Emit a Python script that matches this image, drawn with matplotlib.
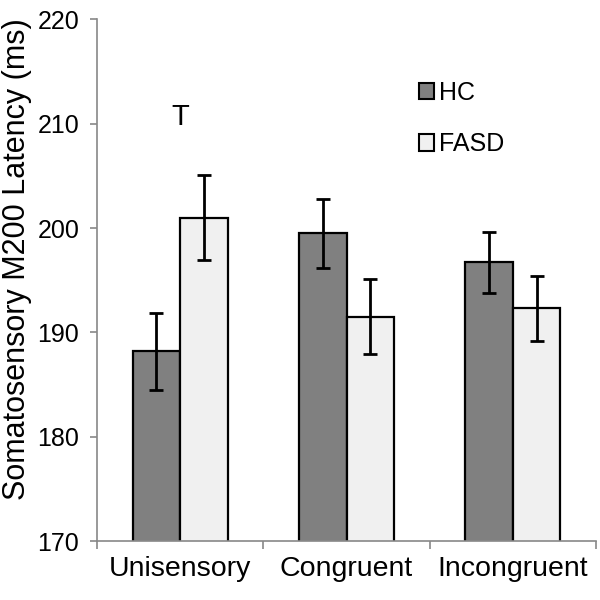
import numpy as np
import matplotlib
matplotlib.use("Agg")
import matplotlib.pyplot as plt
from matplotlib.patches import Patch

# values
conditions = ["Unisensory", "Congruent", "Incongruent"]
hc_mean = [188.2, 199.5, 196.7]
hc_err = [3.7, 3.3, 2.9]
fasd_mean = [201.0, 191.5, 192.3]
fasd_err = [4.1, 3.6, 3.1]
groups = ["HC", "FASD"]

plt.rcParams['font.family'] = ['Liberation Sans', 'DejaVu Sans']

fig = plt.figure(figsize=(6, 6), dpi=100)
ax = fig.add_axes([0.162, 0.098, 0.831, 0.870])

x = np.arange(len(conditions))
w = 0.287
err_kw = dict(ecolor="black", elinewidth=2, capsize=5, capthick=2)
ax.bar(x - w / 2, hc_mean, w, yerr=hc_err, color="#808080",
       edgecolor="black", linewidth=1.6, error_kw=err_kw, zorder=2)
ax.bar(x + w / 2, fasd_mean, w, yerr=fasd_err, color="#f0f0f0",
       edgecolor="black", linewidth=1.6, error_kw=err_kw, zorder=2)

ax.set_ylim(170, 220)
ax.set_xlim(-0.5, 2.5)
ax.set_yticks(np.arange(170, 221, 10))
ax.set_xticks(x)
ax.set_xticklabels(conditions, fontsize=20.5)
ax.tick_params(axis="x", length=0, pad=11)
ax.set_xticks([-0.5, 0.5, 1.5, 2.5], minor=True)
ax.tick_params(axis="x", which="minor", length=6, color="#888888", width=1.2)
ax.tick_params(axis="y", labelsize=18, length=5, color="#888888", width=1.2, pad=8)

for side in ["top", "right"]:
    ax.spines[side].set_visible(False)
for side in ["left", "bottom"]:
    ax.spines[side].set_color("#888888")
    ax.spines[side].set_linewidth(1.2)

ax.set_ylabel("Somatosensory M200 Latency (ms)", fontsize=22)
ax.yaxis.set_label_coords(-0.13, 0.54)

ax.text(0, 210.6, "T", ha="center", va="center", fontsize=21)

handles = [Patch(facecolor="#808080", edgecolor="black", linewidth=1.5),
           Patch(facecolor="#f0f0f0", edgecolor="black", linewidth=1.5)]
ax.legend(handles, groups, loc="upper left", bbox_to_anchor=(0.60, 0.925),
          frameon=False, fontsize=18, handlelength=0.62, handleheight=0.62,
          handletextpad=0.2, labelspacing=1.1)

fig.savefig("out.png", dpi=100)
